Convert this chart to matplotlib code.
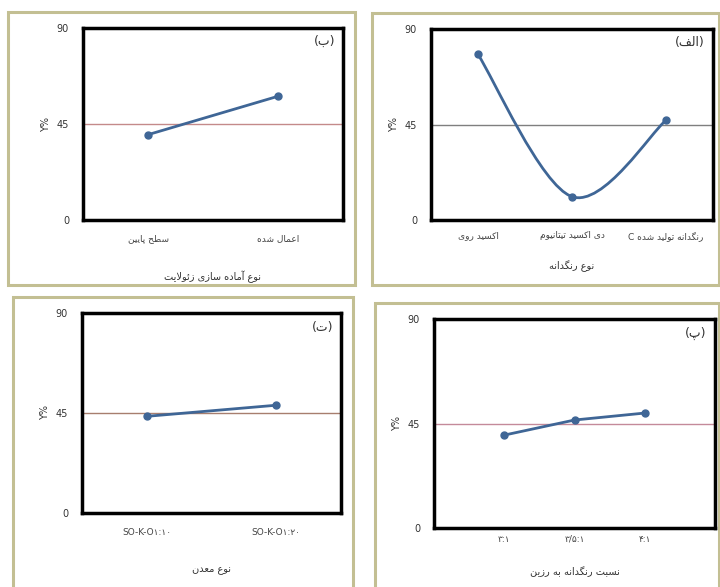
import matplotlib
matplotlib.use('Agg')
import matplotlib.pyplot as plt
from matplotlib.patches import Rectangle, PathPatch
from matplotlib.path import Path

# ---- data ----
labels_a = ['اکسید روی', 'دی اکسید تیتانیوم', 'رنگدانه تولید شده C']
values_a = [78, 11, 47]
xlabel_a = 'نوع رنگدانه'

labels_b = ['سطح پایین', 'اعمال شده']
values_b = [40, 58]
xlabel_b = 'نوع آماده سازی زئولایت'

labels_p = ['۳:۱', '۳/۵:۱', '۴:۱']
values_p = [40, 46.5, 49.5]
xlabel_p = 'نسبت رنگدانه به رزین'

labels_t = ['SO-K-O۱:۱۰', 'SO-K-O۱:۲۰']
values_t = [43.5, 48.5]
xlabel_t = 'نوع معدن'

ref_level = 45
yticks = [0, 45, 90]

# ---- minimal persian shaping (matplotlib 3.10 has no bidi / joining) ----
FORMS = {
    # iso, fin, ini, med ; None -> letter does not join to the following one
    'ا': ('\uFE8D', '\uFE8E', None, None),
    'آ': ('\uFE81', '\uFE82', None, None),
    'ب': ('\uFE8F', '\uFE90', '\uFE91', '\uFE92'),
    'پ': ('\uFB56', '\uFB57', '\uFB58', '\uFB59'),
    'ت': ('\uFE95', '\uFE96', '\uFE97', '\uFE98'),
    'ج': ('\uFE9D', '\uFE9E', '\uFE9F', '\uFEA0'),
    'ح': ('\uFEA1', '\uFEA2', '\uFEA3', '\uFEA4'),
    'د': ('\uFEA9', '\uFEAA', None, None),
    'ر': ('\uFEAD', '\uFEAE', None, None),
    'ز': ('\uFEAF', '\uFEB0', None, None),
    'س': ('\uFEB1', '\uFEB2', '\uFEB3', '\uFEB4'),
    'ش': ('\uFEB5', '\uFEB6', '\uFEB7', '\uFEB8'),
    'ط': ('\uFEC1', '\uFEC2', '\uFEC3', '\uFEC4'),
    'ع': ('\uFEC9', '\uFECA', '\uFECB', '\uFECC'),
    'ف': ('\uFED1', '\uFED2', '\uFED3', '\uFED4'),
    'ک': ('\uFB8E', '\uFB8F', '\uFB90', '\uFB91'),
    'گ': ('\uFB92', '\uFB93', '\uFB94', '\uFB95'),
    'ل': ('\uFEDD', '\uFEDE', '\uFEDF', '\uFEE0'),
    'م': ('\uFEE1', '\uFEE2', '\uFEE3', '\uFEE4'),
    'ن': ('\uFEE5', '\uFEE6', '\uFEE7', '\uFEE8'),
    'ه': ('\uFEE9', '\uFEEA', '\uFEEB', '\uFEEC'),
    'و': ('\uFEED', '\uFEEE', None, None),
    'ی': ('\uFBFC', '\uFBFD', '\uFBFE', '\uFBFF'),
    'ئ': ('\uFE89', '\uFE8A', '\uFE8B', '\uFE8C'),
}


def joins_next(ch):
    return ch in FORMS and FORMS[ch][2] is not None


def shape_word(word):
    word = word.replace('لا', '\uE000')  # lam-alef placeholder
    out = []
    for i, ch in enumerate(word):
        prev = word[i - 1] if i > 0 else ''
        nxt = word[i + 1] if i + 1 < len(word) else ''
        from_prev = joins_next(prev)
        if ch == '\uE000':
            out.append('\uFEFC' if from_prev else '\uFEFB')
            continue
        if ch not in FORMS:
            out.append(ch)
            continue
        iso, fin, ini, med = FORMS[ch]
        to_next = ini is not None and (nxt in FORMS or nxt == '\uE000')
        if from_prev and to_next:
            out.append(med)
        elif from_prev:
            out.append(fin)
        elif to_next:
            out.append(ini)
        else:
            out.append(iso)
    return ''.join(out)


def fa(text):
    if not any(c in FORMS for c in text):
        return text
    words = [shape_word(w)[::-1] if any(c in FORMS for c in w) else w
             for w in text.split(' ')]
    return ' '.join(words[::-1])


# ---- figure ----
W, H = 720, 587
fig = plt.figure(figsize=(W / 100, H / 100), dpi=100)
fig.patch.set_facecolor('white')

frame_col = '#c3bf93'
line_col = '#3f6696'


def px_rect(x0, y0, x1, y1):
    return [x0 / W, 1 - y1 / H, (x1 - x0) / W, (y1 - y0) / H]


def add_frame(x0, y0, x1, y1):
    r = px_rect(x0, y0, x1, y1)
    fig.patches.append(Rectangle((r[0], r[1]), r[2], r[3], transform=fig.transFigure,
                                 fill=False, edgecolor=frame_col, linewidth=2.2))


def smooth_path(xs, ys):
    # catmull-rom style bezier through the points, like the office "smoothed line"
    pts = list(zip(xs, ys))
    verts = [pts[0]]
    codes = [Path.MOVETO]
    n = len(pts)
    for i in range(n - 1):
        p0 = pts[i - 1] if i > 0 else pts[i]
        p1, p2 = pts[i], pts[i + 1]
        p3 = pts[i + 2] if i + 2 < n else pts[i + 1]
        c1 = (p1[0] + (p2[0] - p0[0]) / 6, p1[1] + (p2[1] - p0[1]) / 6)
        c2 = (p2[0] - (p3[0] - p1[0]) / 6, p2[1] - (p3[1] - p1[1]) / 6)
        verts += [c1, c2, p2]
        codes += [Path.CURVE4] * 3
    return Path(verts, codes)


def draw_panel(rect, labels, values, xlabel, tag, ref_col, xpad, smooth=False,
               xmargin=0.5, label_gap=18):
    ax = fig.add_axes(rect)
    x = list(range(len(values)))
    ax.axhline(ref_level, color=ref_col, linewidth=1.0, zorder=1)
    if smooth:
        ax.add_patch(PathPatch(smooth_path(x, values), fill=False,
                               edgecolor=line_col, linewidth=2.0, zorder=3))
        ax.plot(x, values, linestyle='none', marker='o', markersize=5,
                color=line_col, zorder=4)
    else:
        ax.plot(x, values, color=line_col, linewidth=2.0, marker='o',
                markersize=5, zorder=3)
    ax.set_xlim(-xmargin, len(values) - 1 + xmargin)
    ax.set_ylim(0, 90)
    ax.set_yticks(yticks)
    ax.set_yticklabels([str(v) for v in yticks], fontsize=7, color='#333333')
    ax.set_xticks(x)
    ax.set_xticklabels([fa(l) for l in labels], fontsize=6.5, color='#444444')
    ax.tick_params(length=0, pad=xpad)
    ax.tick_params(axis='y', pad=10)
    for sp in ax.spines.values():
        sp.set_linewidth(2.5)
        sp.set_color('black')
    ax.set_ylabel('Y%', fontsize=7, rotation=90, labelpad=4, color='#333333')
    ax.set_xlabel(fa(xlabel), fontsize=7, labelpad=label_gap, color='#333333')
    ax.text(0.97, 0.93, '(' + fa(tag) + ')', transform=ax.transAxes,
            ha='right', va='center', fontsize=9, color='#333333')
    return ax


# outer frames
add_frame(8, 12, 355, 285)
add_frame(372, 13, 719, 285)
add_frame(13, 297, 353, 590)
add_frame(375, 303, 719, 590)

draw_panel(px_rect(83, 28, 343, 220), labels_b, values_b, xlabel_b, 'ب',
           '#c48a8a', xpad=10, label_gap=20)
draw_panel(px_rect(431, 29, 713, 220), labels_a, values_a, xlabel_a, 'الف',
           '#7f7f7f', xpad=8, smooth=True, label_gap=14)
draw_panel(px_rect(82, 313, 341, 513), labels_t, values_t, xlabel_t, 'ت',
           '#a77e6e', xpad=11, label_gap=20)
draw_panel(px_rect(434, 319, 715, 528), labels_p, values_p, xlabel_p, 'پ',
           '#c48a9a', xpad=5, xmargin=1.0, label_gap=16)

fig.savefig('out.png', dpi=100)
